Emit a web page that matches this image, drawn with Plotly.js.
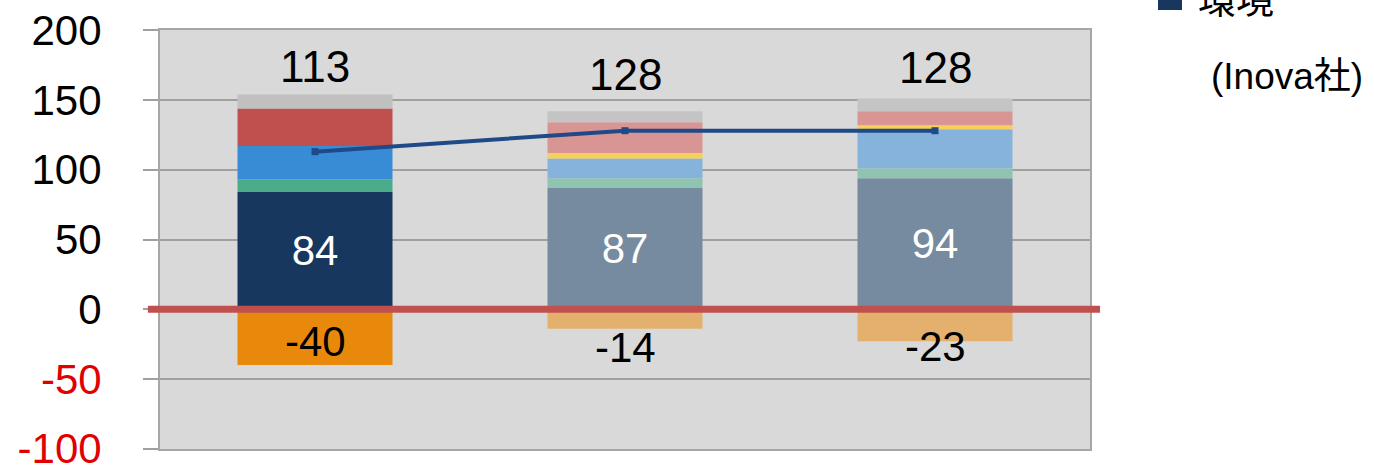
<!DOCTYPE html>
<html>
<head>
<meta charset="utf-8">
<script src="https://cdn.plot.ly/plotly-3.0.1.min.js"></script>
<style>html,body{margin:0;padding:0;background:#fff;}#chart{width:1374px;height:466px;}</style>
</head>
<body>
<div id="chart"></div>
<script>
// ---- data ----
const categories = ['A', 'B', 'C'];
const baseValues   = [84, 87, 94];   // 環境
const greenValues  = [9, 7, 7];
const blueValues   = [24, 14, 28];
const yellowValues = [0, 4, 3];
const redValues    = [27, 22, 10];
const greyValues   = [10, 8, 9];
const negValues    = [-40, -14, -23];
const lineValues   = [113, 128, 128];
const tickVals     = [200, 150, 100, 50, 0, -50, -100];
const legendLabel  = '環境';
const noteLabel    = '(Inova社)';

// ---- styles ----
const FONT = 'Liberation Sans, Noto Sans CJK JP, sans-serif';
const colBase   = ['#17375E', '#768AA0', '#768AA0'];
const colGreen  = ['#4BAC8C', '#8FC4B1', '#8FC4B1'];
const colBlue   = ['#388BD5', '#86B3DB', '#86B3DB'];
const colYellow = ['#F5D05A', '#F5D05A', '#F5D05A'];
const colRed    = ['#C0504D', '#D99594', '#D99594'];
const colGrey   = ['#C0C0C0', '#C4C4C4', '#C4C4C4'];
const colNeg    = ['#E8890C', '#E3B06E', '#E3B06E'];

function barTrace(vals, colors, extra) {
  return Object.assign({
    type: 'bar', x: categories, y: vals,
    marker: {color: colors, line: {width: 0}},
    hoverinfo: 'skip', showlegend: false
  }, extra || {});
}

const traces = [
  barTrace(baseValues, colBase, {
    text: baseValues.map(String), textposition: 'inside', insidetextanchor: 'middle',
    textfont: {family: FONT, size: 42, color: '#FFFFFF'}, constraintext: 'none', textangle: 0
  }),
  barTrace(greenValues, colGreen),
  barTrace(blueValues, colBlue),
  barTrace(yellowValues, colYellow),
  barTrace(redValues, colRed),
  barTrace(greyValues, colGrey),
  barTrace(negValues, colNeg),
  {
    type: 'scatter', mode: 'lines+markers', x: categories, y: lineValues,
    line: {color: '#1F4A87', width: 4},
    marker: {symbol: 'square', size: 7, color: '#1F4A87'},
    hoverinfo: 'skip', showlegend: false
  }
];

const lineShift = [85, 56, 63];
const negShift = [24, -19, -5];
const annotations = [];
categories.forEach((c, i) => {
  annotations.push({x: c, y: lineValues[i], xref: 'x', yref: 'y', text: String(lineValues[i]),
    showarrow: false, yshift: lineShift[i], yanchor: 'middle',
    font: {family: FONT, size: 44, color: '#000'}});
  annotations.push({x: c, y: negValues[i], xref: 'x', yref: 'y', text: String(negValues[i]),
    showarrow: false, yshift: negShift[i], yanchor: 'middle',
    font: {family: FONT, size: 42, color: '#000'}});
});
annotations.push({xref: 'paper', yref: 'paper', x: 1.114, y: 1.072, xanchor: 'left', yanchor: 'middle',
  text: legendLabel, showarrow: false, font: {family: FONT, size: 38, color: '#000'}});
annotations.push({xref: 'paper', yref: 'paper', x: 1.128, y: 0.888, xanchor: 'left', yanchor: 'middle',
  text: noteLabel, showarrow: false, font: {family: FONT, size: 37, color: '#000'}});

const tickText = tickVals.map(v => v < 0 ? '<span style="color:#E00000">' + v + '</span>' : String(v));

const layout = {
  width: 1374, height: 466,
  margin: {l: 160, r: 284, t: 30, b: 17, pad: 0},
  paper_bgcolor: '#FFFFFF', plot_bgcolor: '#D9D9D9',
  barmode: 'relative', bargap: 0.5,
  showlegend: false,
  font: {family: FONT},
  xaxis: {
    type: 'category', showticklabels: false, showgrid: false, zeroline: false,
    showline: true, mirror: true, linecolor: '#A6A6A6', linewidth: 2, ticks: ''
  },
  yaxis: {
    range: [-100.2, 200.2], tickvals: tickVals, ticktext: tickText,
    showgrid: true, gridcolor: '#A0A0A0', gridwidth: 2, zeroline: false,
    showline: true, mirror: true, linecolor: '#A6A6A6', linewidth: 2,
    ticks: 'outside', ticklen: 15, tickcolor: '#A0A0A0', tickwidth: 2,
    ticklabelstandoff: 33, ticklabeloverflow: 'allow',
    tickfont: {family: FONT, size: 42, color: '#000'}
  },
  shapes: [
    {type: 'line', xref: 'paper', yref: 'y', x0: -0.013, x1: 1.0108, y0: 0, y1: 0,
     line: {color: '#C0504D', width: 7}, layer: 'above'},
    {type: 'rect', xref: 'paper', yref: 'paper', x0: 1.0731, x1: 1.0989, y0: 1.0477, y1: 1.12,
     fillcolor: '#17375E', line: {width: 0}}
  ],
  annotations: annotations
};

Plotly.newPlot('chart', traces, layout, {displayModeBar: false, staticPlot: true});
</script>
</body>
</html>
